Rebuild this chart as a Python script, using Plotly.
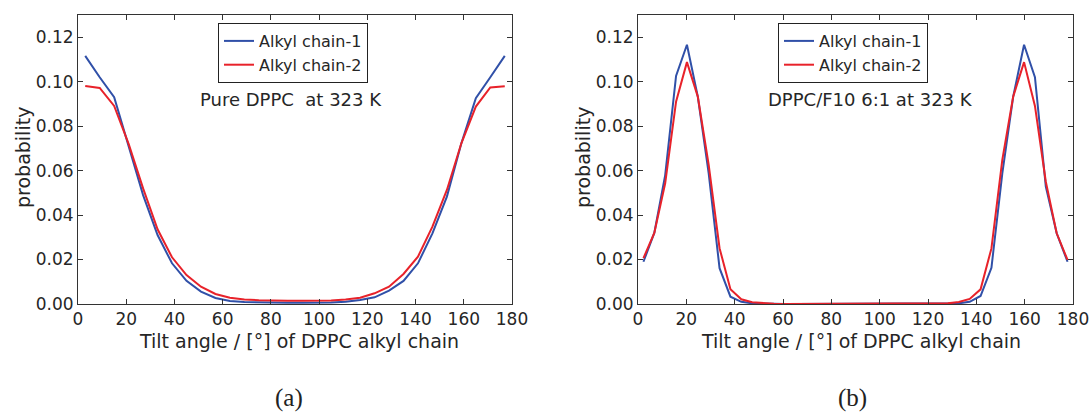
import plotly.graph_objects as go

# ---------------- data ----------------
angle_a = [3, 9, 15, 21, 27, 33, 39, 45, 51, 57, 63, 69, 75, 81, 87,
           93, 99, 105, 111, 117, 123, 129, 135, 141, 147, 153, 159, 165, 171, 177]
chain1_a = [0.1116, 0.102, 0.093, 0.071, 0.049, 0.031, 0.0183, 0.0104, 0.0056, 0.0027,
            0.0014, 0.0009, 0.0007, 0.0006, 0.0006, 0.0006, 0.0006, 0.0007, 0.0010, 0.0018,
            0.0030, 0.0060, 0.0104, 0.0183, 0.0318, 0.0483, 0.0723, 0.0926, 0.102, 0.1116]
chain2_a = [0.0981, 0.0972, 0.0891, 0.072, 0.052, 0.0336, 0.021, 0.013, 0.0078, 0.0045,
            0.0028, 0.0020, 0.0017, 0.0015, 0.0015, 0.0015, 0.0015, 0.0016, 0.0020, 0.0028,
            0.0048, 0.0078, 0.0135, 0.0213, 0.0348, 0.0513, 0.0723, 0.0888, 0.0974, 0.098]

angle_b = [2.25, 6.75, 11.25, 15.75, 20.25, 24.75, 29.25, 33.75, 38.25, 42.75,
           47.25, 51.75, 56.25, 60.75, 65.25, 69.75, 74.25, 78.75, 83.25, 87.75,
           92.25, 96.75, 101.25, 105.75, 110.25, 114.75, 119.25, 123.75, 128.25, 132.75,
           137.25, 141.75, 146.25, 150.75, 155.25, 159.75, 164.25, 168.75, 173.25, 177.75]
chain1_b = [0.019, 0.032, 0.058, 0.1026, 0.1166, 0.0933, 0.0588, 0.0161, 0.0033, 0.0010,
            0.0003, 0.0001, 0.0, 0.0, 0.0, 0.0, 0.0, 0.0, 0.0, 0.0,
            0.0, 0.0, 0.0, 0.0, 0.0, 0.0, 0.0, 0.0, 0.0001, 0.0003,
            0.0010, 0.0036, 0.0163, 0.0588, 0.0933, 0.1166, 0.102, 0.0528, 0.0318, 0.019]
chain2_b = [0.0206, 0.032, 0.0543, 0.091, 0.1088, 0.0933, 0.0626, 0.0251, 0.0066, 0.0021,
            0.0008, 0.0003, 0.0001, 0.0, 0.0, 0.0, 0.0, 0.0, 0.0, 0.0,
            0.0, 0.0, 0.0, 0.0, 0.0, 0.0, 0.0, 0.0001, 0.0003, 0.0009,
            0.0023, 0.0066, 0.025, 0.0648, 0.0933, 0.1088, 0.0891, 0.055, 0.0318, 0.0198]

series_names = ["Alkyl chain-1", "Alkyl chain-2"]
x_ticks = [0, 20, 40, 60, 80, 100, 120, 140, 160, 180]
y_ticks = [0.00, 0.02, 0.04, 0.06, 0.08, 0.10, 0.12]
panel_notes = ["Pure DPPC\u00a0 at 323 K", "DPPC/F10 6:1 at 323 K"]
panel_labels = ["(a)", "(b)"]
x_title = "Tilt angle / [°] of DPPC alkyl chain"
y_title = "probability"

# ---------------- style ----------------
BLUE = "#3050a8"
RED = "#e8222a"
W, H = 1092, 419
FONT = "DejaVu Sans"
TXT = "#262626"

fig = go.Figure()

fig.add_trace(go.Scatter(x=angle_a, y=chain1_a, mode="lines", name=series_names[0],
                         line=dict(color=BLUE, width=2), xaxis="x", yaxis="y", legend="legend"))
fig.add_trace(go.Scatter(x=angle_a, y=chain2_a, mode="lines", name=series_names[1],
                         line=dict(color=RED, width=2), xaxis="x", yaxis="y", legend="legend"))
fig.add_trace(go.Scatter(x=angle_b, y=chain1_b, mode="lines", name=series_names[0],
                         line=dict(color=BLUE, width=2), xaxis="x2", yaxis="y2", legend="legend2"))
fig.add_trace(go.Scatter(x=angle_b, y=chain2_b, mode="lines", name=series_names[1],
                         line=dict(color=RED, width=2), xaxis="x2", yaxis="y2", legend="legend2"))

ydom = [(H - 304) / H, (H - 15) / H]
dom_a = [78 / W, 512 / W]
dom_b = [638 / W, 1073 / W]

axis_common = dict(showline=True, linecolor="#333333", linewidth=1, mirror="allticks",
                   ticks="inside", ticklen=5, tickwidth=1, tickcolor="#333333",
                   showgrid=False, zeroline=False, automargin=False,
                   tickfont=dict(family=FONT, size=17, color=TXT))

legend_common = dict(xanchor="left", yanchor="top",
                     bgcolor="white", bordercolor="#222222", borderwidth=1,
                     font=dict(family=FONT, size=16, color=TXT), itemwidth=30,
                     tracegroupgap=0)

fig.update_layout(
    width=W, height=H, autosize=False,
    margin=dict(l=0, r=0, t=0, b=0, pad=0),
    paper_bgcolor="white", plot_bgcolor="white",
    xaxis=dict(domain=dom_a, range=[0, 180], tickvals=x_ticks, anchor="y", **axis_common),
    yaxis=dict(domain=ydom, range=[0, 0.13], tickvals=y_ticks, tickformat=".2f", anchor="x", **axis_common),
    xaxis2=dict(domain=dom_b, range=[0, 180], tickvals=x_ticks, anchor="y2", **axis_common),
    yaxis2=dict(domain=ydom, range=[0, 0.13], tickvals=y_ticks, tickformat=".2f", anchor="x2", **axis_common),
    legend=dict(x=218 / W, y=(H - 23) / H, **legend_common),
    legend2=dict(x=778 / W, y=(H - 23) / H, **legend_common),
    showlegend=True,
)

annotations = []
annotations.append(dict(x=198 / W, y=(H - 99) / H, xref="paper", yref="paper", text=panel_notes[0],
                        showarrow=False, xanchor="left", yanchor="middle",
                        font=dict(family=FONT, size=18, color=TXT)))
annotations.append(dict(x=766 / W, y=(H - 99) / H, xref="paper", yref="paper", text=panel_notes[1],
                        showarrow=False, xanchor="left", yanchor="middle",
                        font=dict(family=FONT, size=18, color=TXT)))
for cx in (299 / W, 861 / W):
    annotations.append(dict(x=cx, y=(H - 341) / H, xref="paper", yref="paper", text=x_title,
                            showarrow=False, xanchor="center", yanchor="middle",
                            font=dict(family=FONT, size=19, color=TXT)))
for cx in (23 / W, 583 / W):
    annotations.append(dict(x=cx, y=(H - 158) / H, xref="paper", yref="paper", text=y_title,
                            showarrow=False, xanchor="center", yanchor="middle", textangle=-90,
                            font=dict(family=FONT, size=19, color=TXT)))
for cx, lab in zip((289 / W, 852 / W), panel_labels):
    annotations.append(dict(x=cx, y=(H - 398) / H, xref="paper", yref="paper", text=lab,
                            showarrow=False, xanchor="center", yanchor="middle",
                            font=dict(family="Liberation Serif", size=25, color="#222222")))
fig.update_layout(annotations=annotations)

fig.write_html(
    "out.html",
    config={"displayModeBar": False, "responsive": False},
    post_script="document.documentElement.style.margin='0';document.body.style.margin='0';"
                "document.body.style.overflow='hidden';",
)
